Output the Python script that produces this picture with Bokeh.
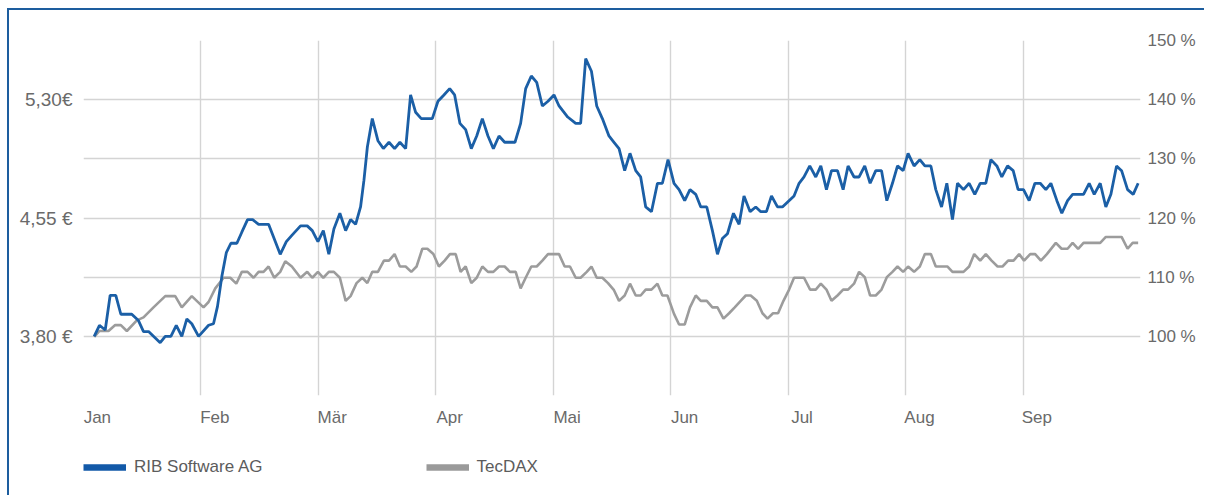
from bokeh.plotting import figure
from bokeh.layouts import column
from bokeh.models import (LinearAxis, Range1d, FixedTicker, CustomJSTickFormatter,
                          Legend, LegendItem, ColumnDataSource)
from bokeh.embed import file_html
from bokeh.resources import INLINE

# ---------------- data ----------------
months = ["Jan", "Feb", "Mär", "Apr", "Mai", "Jun", "Jul", "Aug", "Sep"]
month_pos = [0, 1, 2, 3, 4, 5, 6, 7, 8]

eur_ticks = [3.80, 4.55, 5.30]
eur_labels = ["3,80 €", "4,55 €", "5,30€"]
pct_ticks = [100, 110, 120, 130, 140, 150]
pct_labels = ["100 %", "110 %", "120 %", "130 %", "140 %", "150 %"]
grid_pct = [90, 100, 110, 120, 130, 140, 150]

# RIB Software AG (EUR), x in months since 1 Jan
rib_t = [0.091, 0.136, 0.185, 0.227, 0.275, 0.318, 0.411, 0.468, 0.511, 0.554,
         0.653, 0.696, 0.744, 0.790, 0.837, 0.880, 0.922, 0.980, 1.065, 1.107,
         1.141, 1.178, 1.216, 1.255, 1.306, 1.348, 1.397, 1.440, 1.491, 1.576,
         1.675, 1.727, 1.774, 1.848, 1.905, 1.948, 1.996, 2.042, 2.089, 2.132,
         2.183, 2.232, 2.274, 2.317, 2.359, 2.388, 2.417, 2.459, 2.507, 2.553,
         2.601, 2.649, 2.694, 2.743, 2.785, 2.828, 2.876, 2.970, 3.018, 3.069,
         3.118, 3.160, 3.205, 3.254, 3.302, 3.348, 3.396, 3.444, 3.490, 3.538,
         3.586, 3.674, 3.722, 3.765, 3.813, 3.859, 3.907, 3.955, 4.006, 4.049,
         4.123, 4.191, 4.233, 4.276, 4.325, 4.370, 4.418, 4.474, 4.517, 4.560,
         4.608, 4.653, 4.702, 4.744, 4.787, 4.836, 4.887, 4.929, 4.977, 5.028,
         5.071, 5.119, 5.164, 5.213, 5.256, 5.307, 5.355, 5.398, 5.440, 5.483,
         5.534, 5.582, 5.624, 5.676, 5.724, 5.767, 5.815, 5.858, 5.909, 5.951,
         6.050, 6.093, 6.135, 6.184, 6.235, 6.278, 6.326, 6.369, 6.420, 6.468,
         6.510, 6.561, 6.604, 6.652, 6.698, 6.746, 6.795, 6.840, 6.888, 6.931,
         6.979, 7.021, 7.072, 7.121, 7.164, 7.215, 7.257, 7.306, 7.351, 7.399,
         7.442, 7.493, 7.541, 7.589, 7.635, 7.683, 7.726, 7.777, 7.819, 7.868,
         7.916, 7.958, 8.004, 8.052, 8.101, 8.146, 8.194, 8.237, 8.288, 8.330,
         8.379, 8.422, 8.515, 8.563, 8.606, 8.657, 8.705, 8.748, 8.796, 8.839,
         8.890, 8.938, 8.980]
rib_eur = [3.80, 3.87, 3.84, 4.06, 4.06, 3.94, 3.94, 3.90, 3.83, 3.83,
           3.76, 3.80, 3.80, 3.87, 3.80, 3.91, 3.88, 3.80, 3.87, 3.88,
           3.99, 4.18, 4.33, 4.39, 4.39, 4.46, 4.54, 4.54, 4.51, 4.51,
           4.32, 4.40, 4.44, 4.50, 4.50, 4.47, 4.40, 4.47, 4.32, 4.48,
           4.58, 4.47, 4.54, 4.51, 4.62, 4.79, 5.00, 5.18, 5.04, 4.99,
           5.03, 4.99, 5.03, 4.99, 5.33, 5.22, 5.18, 5.18, 5.29, 5.33,
           5.37, 5.33, 5.15, 5.11, 4.99, 5.07, 5.18, 5.07, 4.99, 5.07,
           5.03, 5.03, 5.15, 5.37, 5.45, 5.41, 5.26, 5.29, 5.33, 5.26,
           5.19, 5.15, 5.15, 5.56, 5.48, 5.26, 5.18, 5.07, 5.03, 4.99,
           4.85, 4.96, 4.85, 4.81, 4.62, 4.59, 4.77, 4.77, 4.92, 4.77,
           4.73, 4.66, 4.73, 4.70, 4.62, 4.62, 4.47, 4.32, 4.42, 4.45,
           4.58, 4.51, 4.69, 4.59, 4.62, 4.59, 4.59, 4.69, 4.62, 4.62,
           4.69, 4.77, 4.81, 4.88, 4.81, 4.88, 4.73, 4.85, 4.85, 4.73,
           4.88, 4.81, 4.81, 4.88, 4.77, 4.85, 4.85, 4.66, 4.77, 4.88,
           4.85, 4.96, 4.88, 4.92, 4.88, 4.88, 4.73, 4.62, 4.77, 4.54,
           4.77, 4.73, 4.77, 4.70, 4.77, 4.77, 4.92, 4.88, 4.81, 4.88,
           4.85, 4.73, 4.73, 4.66, 4.77, 4.77, 4.73, 4.77, 4.66, 4.58,
           4.66, 4.70, 4.70, 4.77, 4.70, 4.77, 4.62, 4.70, 4.88, 4.85,
           4.73, 4.70, 4.77]

# TecDAX (percent, start = 100 %)
tec_t = [0.091, 0.136, 0.213, 0.270, 0.318, 0.369, 0.454, 0.511, 0.596, 0.696,
         0.781, 0.837, 0.922, 1.022, 1.065, 1.122, 1.193, 1.250, 1.301, 1.348,
         1.397, 1.448, 1.491, 1.533, 1.576, 1.624, 1.675, 1.718, 1.774, 1.848,
         1.905, 1.948, 1.996, 2.042, 2.089, 2.132, 2.183, 2.232, 2.274, 2.325,
         2.374, 2.417, 2.459, 2.507, 2.558, 2.601, 2.649, 2.694, 2.743, 2.791,
         2.836, 2.885, 2.928, 2.979, 3.026, 3.075, 3.120, 3.169, 3.211, 3.254,
         3.302, 3.348, 3.396, 3.444, 3.490, 3.538, 3.586, 3.631, 3.680, 3.722,
         3.765, 3.813, 3.859, 3.907, 3.955, 4.049, 4.097, 4.142, 4.191, 4.233,
         4.285, 4.325, 4.370, 4.418, 4.466, 4.517, 4.560, 4.608, 4.653, 4.702,
         4.744, 4.787, 4.836, 4.887, 4.929, 4.972, 5.028, 5.071, 5.119, 5.164,
         5.213, 5.256, 5.307, 5.355, 5.398, 5.449, 5.497, 5.545, 5.596, 5.639,
         5.681, 5.733, 5.781, 5.824, 5.871, 5.914, 5.960, 6.008, 6.050, 6.135,
         6.187, 6.235, 6.278, 6.326, 6.369, 6.420, 6.468, 6.510, 6.561, 6.604,
         6.652, 6.698, 6.746, 6.795, 6.840, 6.888, 6.931, 6.979, 7.021, 7.072,
         7.121, 7.164, 7.215, 7.257, 7.357, 7.399, 7.493, 7.541, 7.584, 7.635,
         7.683, 7.732, 7.783, 7.825, 7.873, 7.919, 7.967, 8.009, 8.061, 8.103,
         8.152, 8.203, 8.279, 8.328, 8.379, 8.422, 8.469, 8.515, 8.657, 8.705,
         8.839, 8.890, 8.933, 8.980]
tec_pct = [99.9, 100.9, 100.9, 101.9, 101.9, 100.9, 102.7, 103.2, 104.9, 106.8,
           106.8, 104.9, 106.8, 104.9, 105.8, 108.1, 109.9, 109.9, 108.9, 110.9,
           110.9, 109.9, 110.9, 110.9, 111.8, 109.9, 110.9, 112.7, 111.8, 109.9,
           110.9, 109.9, 110.9, 109.9, 110.9, 110.9, 109.9, 106.0, 106.8, 109.0,
           109.9, 109.0, 110.9, 110.9, 112.8, 112.8, 113.9, 111.8, 111.8, 110.9,
           111.8, 114.8, 114.8, 113.9, 111.8, 112.8, 113.9, 113.9, 110.9, 111.8,
           109.0, 109.9, 111.8, 110.9, 110.9, 111.8, 111.8, 110.9, 110.9, 108.1,
           109.9, 111.8, 111.8, 112.8, 113.9, 113.9, 111.8, 111.8, 109.9, 109.9,
           110.9, 111.8, 109.9, 109.9, 109.0, 107.8, 106.0, 106.9, 108.9, 106.9,
           106.9, 107.9, 107.9, 108.9, 106.9, 106.9, 103.8, 102.0, 102.0, 104.9,
           106.9, 106.0, 106.0, 104.9, 104.9, 103.0, 103.9, 104.9, 106.0, 106.9,
           106.9, 106.0, 103.9, 103.0, 103.9, 103.9, 106.0, 107.9, 109.9, 109.9,
           107.9, 107.9, 108.9, 107.9, 106.0, 106.9, 107.9, 107.9, 108.9, 110.9,
           110.0, 106.9, 106.9, 107.9, 110.0, 110.9, 111.8, 110.9, 111.8, 110.9,
           111.8, 113.9, 113.9, 111.8, 111.8, 110.9, 110.9, 111.8, 113.9, 112.8,
           113.9, 112.8, 111.8, 111.8, 112.8, 112.8, 113.9, 112.8, 113.9, 113.9,
           112.8, 113.9, 115.8, 114.8, 114.8, 115.8, 114.8, 115.8, 115.8, 116.8,
           116.8, 114.8, 115.8, 115.8]

series_names = ["RIB Software AG", "TecDAX"]

# ---------------- styles ----------------
FONT = "Liberation Sans"
FS = "17px"
BLUE = "#1b5fa6"
GRAY = "#9c9c9c"
GRID = "#d4d4d4"
TXT = "#6a6a6a"
LABEL_DX = 0.118   # month labels start at the month line (labels are centred by Bokeh)

p = figure(frame_width=1057, frame_height=355, output_backend="svg",
           toolbar_location=None, x_range=Range1d(0, 9), y_range=Range1d(90, 150),
           y_axis_location="right", min_border_left=74, min_border_right=64,
           min_border_top=30, min_border_bottom=40, background_fill_color="white",
           border_fill_color="white")
p.outline_line_color = None

p.extra_y_ranges = {"eur": Range1d(3.425, 5.675)}

# grids
p.xgrid.ticker = FixedTicker(ticks=month_pos[1:])
p.ygrid.ticker = FixedTicker(ticks=grid_pct)
for g in (p.xgrid, p.ygrid):
    g.grid_line_color = GRID
    g.grid_line_width = 1.4

def style_axis(ax, fs=FS):
    ax.axis_line_color = None
    ax.major_tick_line_color = None
    ax.minor_tick_line_color = None
    ax.major_tick_out = 0
    ax.major_tick_in = 0
    ax.major_label_text_font = FONT
    ax.major_label_text_font_size = fs
    ax.major_label_text_color = TXT

# x axis: month names starting at each month line
xa = p.xaxis[0]
style_axis(xa)
xa.ticker = FixedTicker(ticks=[m + LABEL_DX for m in month_pos])
xa.formatter = CustomJSTickFormatter(args=dict(names=months), code="""
const i = Math.floor(tick + 1e-6);
return (i >= 0 && i < names.length) ? names[i] : '';
""")
xa.major_label_standoff = 12

# right axis (percent)
ra = p.yaxis[0]
style_axis(ra)
ra.ticker = FixedTicker(ticks=pct_ticks)
ra.major_label_overrides = {t: s for t, s in zip(pct_ticks, pct_labels)}
ra.major_label_standoff = 7

# left axis (EUR)
la = LinearAxis(y_range_name="eur")
style_axis(la, "19px")
la.ticker = FixedTicker(ticks=eur_ticks)
la.formatter = CustomJSTickFormatter(args=dict(t=eur_ticks, l=eur_labels), code="""
for (let i = 0; i < t.length; i++) { if (Math.abs(tick - t[i]) < 1e-6) return l[i]; }
return '';
""")
la.major_label_standoff = 11
p.add_layout(la, "left")

# lines
tec_src = ColumnDataSource(dict(x=tec_t, y=tec_pct))
rib_src = ColumnDataSource(dict(x=rib_t, y=rib_eur))
p.line("x", "y", source=tec_src, line_color=GRAY, line_width=2.6)
p.line("x", "y", source=rib_src, line_color=BLUE, line_width=2.8, y_range_name="eur")

# ---------------- legend strip (separate small figure, frame aligned with chart) ----------------
lf = figure(width=1195, height=60, output_backend="svg", toolbar_location=None,
            x_range=Range1d(0, 1), y_range=Range1d(0, 1),
            x_axis_location=None, y_axis_location=None,
            min_border=0, background_fill_color="white", border_fill_color="white")
lf.outline_line_color = None
lf.xgrid.visible = False
lf.ygrid.visible = False

# swatch renderers reuse the series (their values lie outside this strip's ranges)
sw_rib = lf.line("x", "y", source=rib_src, line_color="#1259a8", line_width=6.5)
sw_tec = lf.line("x", "y", source=tec_src, line_color="#9a9a9a", line_width=6.5)

lg = Legend(items=[LegendItem(label=series_names[0], renderers=[sw_rib]),
                   LegendItem(label=series_names[1], renderers=[sw_tec])],
            location=(0, 18), orientation="horizontal", padding=0, margin=0,
            spacing=163, border_line_color=None, background_fill_alpha=0,
            glyph_width=43, glyph_height=20, label_standoff=8,
            label_text_font=FONT, label_text_font_size=FS,
            label_text_color="#5c5c5c")
lf.add_layout(lg, "center")

page = column(p, lf, spacing=0)
page.styles = {"margin-left": "7px", "margin-top": "8px",
               "border-top": "2px solid #1d5d9e", "border-left": "2px solid #1d5d9e"}

open("out.html", "w").write(file_html(page, INLINE))
